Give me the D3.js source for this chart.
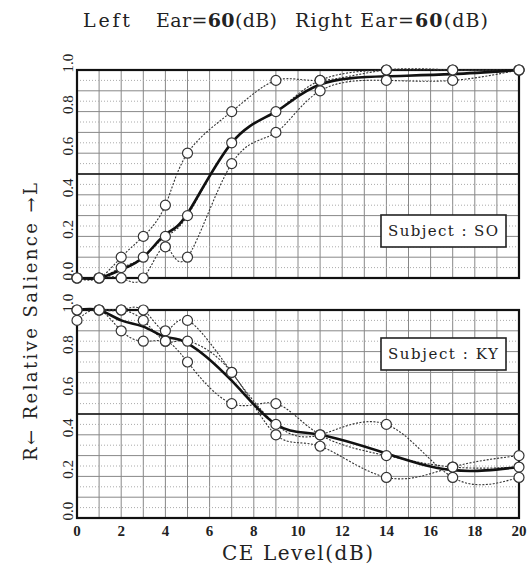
<!DOCTYPE html>
<html>
<head>
<meta charset="utf-8">
<script src="https://cdn.jsdelivr.net/npm/d3@7"></script>
<style>
  body { margin: 0; background: #fff; }
  svg text { font-family: "DejaVu Serif", "Liberation Serif", serif; fill: #222; }
</style>
</head>
<body>
<svg id="chart" width="532" height="569"></svg>
<script>
// CE levels (dB) where the trials were measured
const ceLevels = [0, 1, 2, 3, 4, 5, 7, 9, 11, 14, 17, 20];

// Subject SO (top panel) - three trials + thick mean curve
const soTrialA = [0, 0, 0.10, 0.20, 0.35, 0.60, 0.80, 0.95, 0.95, 1.00, 1.00, 1.00];
const soTrialB = [0, 0, 0.05, 0.10, 0.20, 0.30, 0.65, 0.80, 0.95, 1.00, 1.00, 1.00];
const soTrialC = [0, 0, 0, 0, 0.15, 0.10, 0.55, 0.70, 0.90, 0.95, 0.95, 1.00];
const soMean   = [0, 0, 0.04, 0.10, 0.21, 0.31, 0.65, 0.80, 0.93, 0.97, 0.98, 1.00];

// Subject KY (bottom panel)
const kyTrialA = [1.00, 1.00, 1.00, 1.00, 0.90, 0.95, 0.70, 0.45, 0.40, 0.45, 0.195, 0.195];
const kyTrialB = [0.95, 1.00, 0.90, 0.85, 0.85, 0.75, 0.55, 0.55, 0.40, 0.30, 0.245, 0.245];
const kyTrialC = [1.00, 1.00, 1.00, 0.95, 0.85, 0.85, 0.70, 0.40, 0.345, 0.195, 0.245, 0.30];
const kyMean   = [1.00, 1.00, 0.95, 0.92, 0.87, 0.84, 0.66, 0.45, 0.40, 0.31, 0.23, 0.245];

const xTicks = [0, 2, 4, 6, 8, 10, 12, 14, 16, 18, 20];
const yTicks = [0, 0.2, 0.4, 0.6, 0.8, 1.0];

const svg = d3.select("#chart");
const left = 77, right = 519;
const panels = [
  { top: 70, bottom: 278, trials: [soTrialA, soTrialB, soTrialC], mean: soMean, label: "Subject : SO", boxY: 215 },
  { top: 310, bottom: 518, trials: [kyTrialA, kyTrialB, kyTrialC], mean: kyMean, label: "Subject : KY", boxY: 338 }
];

const xScale = d3.scaleLinear().domain([0, 20]).range([left, right]);

// title
function titlePart(x0, x1, parts) {
  const t = svg.append("text").attr("x", x0).attr("y", 27)
    .attr("font-size", 19).attr("textLength", x1 - x0).attr("lengthAdjust", "spacing");
  parts.forEach(p => t.append("tspan").attr("font-weight", p[1] ? "bold" : "normal").text(p[0]));
}
titlePart(83, 130, [["Left", false]]);
titlePart(156, 277, [["Ear=", false], ["60", true], ["(dB)", false]]);
titlePart(295, 488, [["Right Ear=", false], ["60", true], ["(dB)", false]]);

panels.forEach((p, pi) => {
  const yScale = d3.scaleLinear().domain([0, 1]).range([p.bottom, p.top]);
  const g = svg.append("g");

  // grid: vertical every 1 dB
  g.selectAll(".vgrid").data(d3.range(1, 20)).join("line")
    .attr("x1", d => xScale(d)).attr("x2", d => xScale(d))
    .attr("y1", p.top).attr("y2", p.bottom)
    .attr("stroke", "#888").attr("stroke-width", 1);
  // minor horizontal dotted at 0.05 steps
  g.selectAll(".hminor").data(d3.range(0.05, 1, 0.1)).join("line")
    .attr("x1", left).attr("x2", right)
    .attr("y1", d => yScale(d)).attr("y2", d => yScale(d))
    .attr("stroke", "#aaa").attr("stroke-width", 1).attr("stroke-dasharray", "1,2");
  // horizontal every 0.1
  g.selectAll(".hgrid").data(d3.range(1, 10).map(d => d / 10)).join("line")
    .attr("x1", left).attr("x2", right)
    .attr("y1", d => yScale(d)).attr("y2", d => yScale(d))
    .attr("stroke", "#888").attr("stroke-width", 1);
  // 0.5 reference line
  g.append("line").attr("x1", left).attr("x2", right)
    .attr("y1", yScale(0.5)).attr("y2", yScale(0.5))
    .attr("stroke", "#111").attr("stroke-width", 1.6);

  // frame
  g.append("rect").attr("x", left).attr("y", p.top)
    .attr("width", right - left).attr("height", p.bottom - p.top)
    .attr("fill", "none").attr("stroke", "#111").attr("stroke-width", 2.2);

  // subject box
  g.append("rect").attr("x", 381).attr("y", p.boxY).attr("width", 125).attr("height", 32)
    .attr("fill", "#fff").attr("stroke", "#222").attr("stroke-width", 1.6);
  g.append("text").attr("x", 388).attr("y", p.boxY + 21)
    .attr("font-size", 15).attr("textLength", 110).attr("lengthAdjust", "spacing")
    .text(p.label);

  // y tick labels (rotated)
  g.selectAll(".ylab").data(yTicks).join("text")
    .attr("transform", d => `translate(73,${yScale(d) - 7}) rotate(-90)`)
    .attr("text-anchor", "middle").attr("font-size", 15)
    .style("font-family", "'Liberation Serif', serif")
    .text(d => d3.format(".1f")(d));

  const line = d3.line().x((d, i) => xScale(ceLevels[i])).y(d => yScale(d)).curve(d3.curveNatural);

  // trial curves (dotted)
  p.trials.forEach(tr => {
    g.append("path").attr("d", line(tr)).attr("fill", "none")
      .attr("stroke", "#333").attr("stroke-width", 1.1).attr("stroke-dasharray", "2,1.5");
  });
  // mean curve (thick)
  g.append("path").attr("d", line(p.mean)).attr("fill", "none")
    .attr("stroke", "#111").attr("stroke-width", 2.6);

  // markers
  p.trials.forEach(tr => {
    g.selectAll(null).data(tr).join("circle")
      .attr("cx", (d, i) => xScale(ceLevels[i])).attr("cy", d => yScale(d))
      .attr("r", 5).attr("fill", "#fff").attr("stroke", "#333").attr("stroke-width", 1.2);
  });

  if (pi === 1) {
    g.selectAll(".xlab").data(xTicks).join("text")
      .attr("x", d => xScale(d)).attr("y", p.bottom + 18)
      .attr("text-anchor", "middle").attr("font-size", 15).attr("font-weight", "bold")
      .style("font-family", "'Liberation Serif', serif")
      .text(d => d);
  }
});

// axis titles
svg.append("text").attr("x", 222).attr("y", 560)
  .attr("font-size", 20).attr("textLength", 151).attr("lengthAdjust", "spacing")
  .text("CE Level(dB)");
svg.append("text").attr("transform", "translate(37,322) rotate(-90)")
  .attr("text-anchor", "middle").attr("font-size", 18)
  .attr("textLength", 278).attr("lengthAdjust", "spacing")
  .text("R\u2190 Relative Salience \u2192L");
</script>
</body>
</html>
